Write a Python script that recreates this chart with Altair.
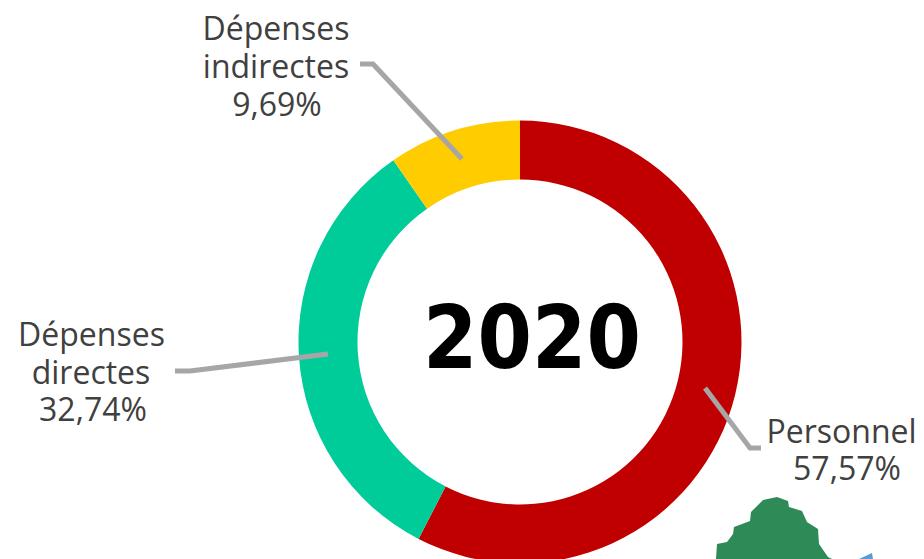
import altair as alt
import pandas as pd

categories = ["Personnel", "Dépenses directes", "Dépenses indirectes"]
shares = [57.57, 32.74, 9.69]
colors = ["#C00000", "#00CC99", "#FFCC00"]

label_text = ["Dépenses", "indirectes", "9,69%", "Dépenses", "directes", "32,74%", "Personnel", "57,57%"]
label_x = [268, 268, 269, 83.5, 83, 85, 833.5, 839]
label_y = [32, 70, 108, 338, 376, 413, 435, 472]

leader_group = ["a", "a", "a", "b", "b", "b", "c", "c", "c"]
leader_order = [0, 1, 2, 0, 1, 2, 0, 1, 2]
leader_x = [352, 365, 454, 167, 182, 320, 697, 742, 753]
leader_y = [56, 56, 151, 363, 363, 346, 380, 440, 440]

tree_x = [708, 709, 719, 725, 726, 742, 743, 755, 769, 780, 781, 794, 799, 810, 811, 820, 824]
tree_y = [551, 536, 534, 526, 519, 513, 504, 492, 489, 493, 499, 503, 514, 521, 536, 549, 551]

sliver_x = [851, 864, 865]
sliver_y = [551, 545, 551]

W, H = 908, 551
xs = alt.Scale(domain=[0, W], range=[0, W])
ys = alt.Scale(domain=[0, H], range=[0, H])

slices = pd.DataFrame({"cat": categories, "share": shares, "idx": [0, 1, 2]})
donut = alt.Chart(slices).mark_arc(outerRadius=221.5, innerRadius=162.5).encode(
    theta=alt.Theta("share:Q", stack=True, scale=alt.Scale(domain=[0, 100], range=[0, 6.283185307])),
    order=alt.Order("idx:Q"),
    color=alt.Color("cat:N", scale=alt.Scale(domain=categories, range=colors), legend=None),
    x=alt.value(512),
    y=alt.value(334),
)

leaders = alt.Chart(pd.DataFrame({"g": leader_group, "o": leader_order, "x": leader_x, "y": leader_y})).mark_line(
    color="#A6A6A6", strokeWidth=5
).encode(
    x=alt.X("x:Q", scale=xs, axis=None),
    y=alt.Y("y:Q", scale=ys, axis=None),
    detail="g:N",
    order="o:Q",
)

labels = alt.Chart(pd.DataFrame({"t": label_text, "x": label_x, "y": label_y})).mark_text(
    font="Open Sans", fontSize=32, color="#404040", align="center", baseline="alphabetic"
).encode(
    x=alt.X("x:Q", scale=xs, axis=None),
    y=alt.Y("y:Q", scale=ys, axis=None),
    text="t:N",
)

center = alt.Chart(pd.DataFrame({"t": ["2020"], "x": [524], "y": [360]})).mark_text(
    font="DejaVu Sans Condensed", fontWeight="bold", fontSize=87, color="#000000", align="center", baseline="alphabetic"
).encode(
    x=alt.X("x:Q", scale=xs, axis=None),
    y=alt.Y("y:Q", scale=ys, axis=None),
    text="t:N",
)

tree = alt.Chart(pd.DataFrame({"x": tree_x, "y": tree_y, "b": [H] * len(tree_x)})).mark_area(color="#2E8B57", interpolate="linear").encode(
    x=alt.X("x:Q", scale=xs, axis=None),
    y=alt.Y("y:Q", scale=ys, axis=None),
    y2="b:Q",
)

sliver = alt.Chart(pd.DataFrame({"x": sliver_x, "y": sliver_y, "b": [H] * len(sliver_x)})).mark_area(color="#5B9BD5", interpolate="linear").encode(
    x=alt.X("x:Q", scale=xs, axis=None),
    y=alt.Y("y:Q", scale=ys, axis=None),
    y2="b:Q",
)

chart = alt.layer(donut, tree, sliver, leaders, labels, center).properties(
    width=W, height=H, padding=0, background="#FFFFFF", autosize=alt.AutoSizeParams(type="none")
).configure_view(stroke=None)

chart.save("out.html", embed_options={"renderer": "svg", "actions": False})
